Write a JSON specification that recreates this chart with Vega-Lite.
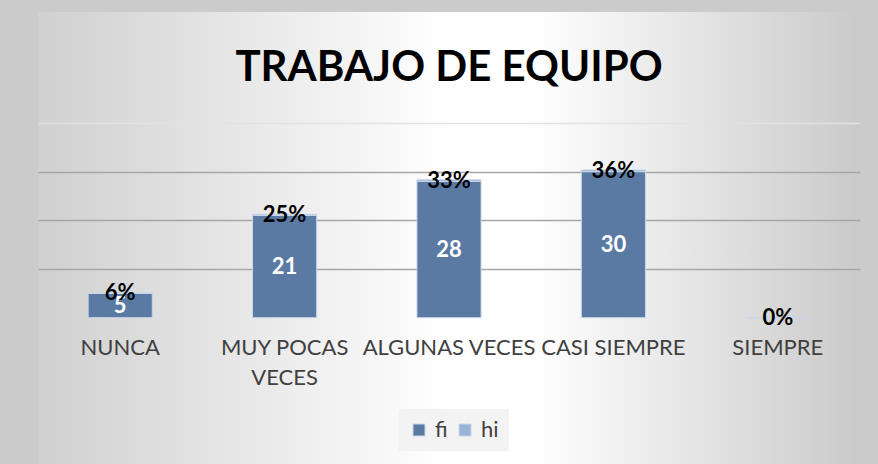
{
  "$schema": "https://vega.github.io/schema/vega-lite/v6.json",
  "width": 822,
  "height": 452,
  "autosize": {"type": "none"},
  "padding": {"left": 38, "top": 12, "right": 18, "bottom": 0},
  "background": "#cbcbcb",
  "title": {
    "text": "TRABAJO DE EQUIPO",
    "orient": "top",
    "anchor": "middle",
    "offset": -111,
    "baseline": "alphabetic",
    "font": "Lato",
    "fontSize": 42,
    "fontWeight": "bold",
    "color": "#000000"
  },
  "config": {
    "view": {
      "stroke": null,
      "fill": {
        "gradient": "linear",
        "x1": 0, "y1": 0, "x2": 1, "y2": 0,
        "stops": [
          {"offset": 0, "color": "#d0d0d0"},
          {"offset": 0.5, "color": "#ffffff"},
          {"offset": 0.6, "color": "#ffffff"},
          {"offset": 1, "color": "#cacaca"}
        ]
      }
    }
  },
  "data": {
    "values": [
      {"cat": "NUNCA", "serie": "fi", "ord": 1, "valor": 5, "etiqueta": "5"},
      {"cat": "MUY POCAS VECES", "serie": "fi", "ord": 1, "valor": 21, "etiqueta": "21"},
      {"cat": "ALGUNAS VECES", "serie": "fi", "ord": 1, "valor": 28, "etiqueta": "28"},
      {"cat": "CASI SIEMPRE", "serie": "fi", "ord": 1, "valor": 30, "etiqueta": "30"},
      {"cat": "SIEMPRE", "serie": "fi", "ord": 1, "valor": 0, "etiqueta": ""},
      {"cat": "NUNCA", "serie": "hi", "ord": 2, "valor": 0.0595, "etiqueta": "6%"},
      {"cat": "MUY POCAS VECES", "serie": "hi", "ord": 2, "valor": 0.25, "etiqueta": "25%"},
      {"cat": "ALGUNAS VECES", "serie": "hi", "ord": 2, "valor": 0.3333, "etiqueta": "33%"},
      {"cat": "CASI SIEMPRE", "serie": "hi", "ord": 2, "valor": 0.3571, "etiqueta": "36%"},
      {"cat": "SIEMPRE", "serie": "hi", "ord": 2, "valor": 0, "etiqueta": "0%"}
    ]
  },
  "encoding": {
    "x": {
      "field": "cat",
      "type": "nominal",
      "sort": ["NUNCA", "MUY POCAS VECES", "ALGUNAS VECES", "CASI SIEMPRE", "SIEMPRE"],
      "scale": {"paddingInner": 0.61, "paddingOuter": 0.305},
      "axis": {
        "title": null,
        "orient": "bottom",
        "offset": -146.3,
        "domain": false,
        "ticks": false,
        "tickSize": 0,
        "labelAngle": 0,
        "labelPadding": 20,
        "labelFont": "Lato",
        "labelFontSize": 22,
        "labelColor": "#404040",
        "labelBaseline": "top",
        "labelLineHeight": 30,
        "labelLimit": 400,
        "labelExpr": "datum.value == 'MUY POCAS VECES' ? ['MUY POCAS', 'VECES'] : datum.value"
      }
    }
  },
  "layer": [
    {
      "mark": {"type": "bar", "stroke": "#c9d6e8", "strokeWidth": 1},
      "encoding": {
        "y": {
          "field": "valor",
          "type": "quantitative",
          "stack": "zero",
          "scale": {"domain": [-30.06, 62.8], "nice": false, "zero": false},
          "axis": {
            "title": null,
            "labels": false,
            "ticks": false,
            "domain": false,
            "values": [10, 20, 30, 40],
            "grid": true,
            "gridWidth": 1.5,
            "gridColor": {"condition": {"test": "datum.value == 40", "value": "#e2e2e2"}, "value": "#a6a6a6"}
          }
        },
        "order": {"field": "ord", "type": "quantitative"},
        "color": {
          "field": "serie",
          "type": "nominal",
          "scale": {"domain": ["fi", "hi"], "range": ["#5a7aa4", "#9ab2d6"]},
          "legend": {
            "title": null,
            "orient": "none",
            "legendX": 360,
            "legendY": 397,
            "direction": "horizontal",
            "fillColor": "#f3f3f3",
            "padding": 10,
            "symbolType": "square",
            "symbolSize": 144,
            "symbolStrokeColor": "#c9d6e8",
            "symbolStrokeWidth": 1,
            "labelFont": "Lato",
            "labelFontSize": 22,
            "labelColor": "#404040",
            "columnPadding": 6,
            "labelOffset": 5
          }
        }
      }
    },
    {
      "mark": {"type": "rule", "color": "#404040", "strokeWidth": 4.3},
      "encoding": {"y": {"datum": 0, "type": "quantitative"}}
    },
    {
      "mark": {"type": "text", "font": "Lato", "fontWeight": "bold", "fontSize": 22, "baseline": "middle", "align": "center"},
      "encoding": {
        "y": {"field": "valor", "type": "quantitative", "stack": "zero", "bandPosition": 0.5},
        "order": {"field": "ord", "type": "quantitative"},
        "text": {"field": "etiqueta"},
        "color": {
          "condition": {"test": "datum.serie == 'fi'", "value": "#ffffff"},
          "value": "#000000"
        }
      }
    }
  ]
}
